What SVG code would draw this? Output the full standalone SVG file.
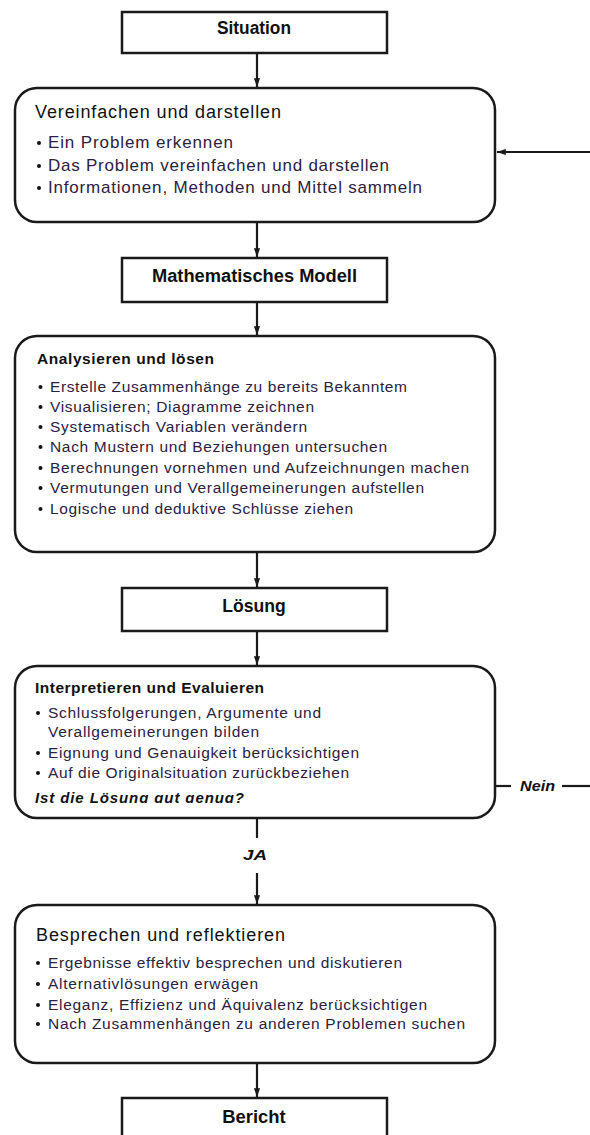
<svg xmlns="http://www.w3.org/2000/svg" width="590" height="1135" viewBox="0 0 590 1135">
<style>
.box{fill:#fff;stroke:#1a1a1a;stroke-width:2.5}
.lbl{font-family:"Liberation Sans",Arial,sans-serif;font-weight:bold;font-size:17.5px;fill:#111;text-anchor:middle}
.t1{font-family:"Liberation Sans",Arial,sans-serif;font-size:18px;fill:#111}
.t2{font-family:"Liberation Sans",Arial,sans-serif;font-weight:bold;font-size:15.5px;fill:#111}
.b{font-family:"Liberation Sans",Arial,sans-serif;font-size:17px;fill:#2c2140}
.bs{font-family:"Liberation Sans",Arial,sans-serif;font-size:15.5px;fill:#2c2140}
.bi{font-family:"Liberation Sans",Arial,sans-serif;font-weight:bold;font-style:italic;font-size:15px;fill:#111}
.dot{fill:#111}
.ln{fill:none;stroke:#1a1a1a;stroke-width:2.2}
</style>
<defs>
<marker id="ah" viewBox="0 0 10 7" refX="10" refY="3.5" markerWidth="4" markerHeight="2.8" orient="auto" markerUnits="strokeWidth">
<path d="M0,0 L10,3.5 L0,7 z" fill="#1a1a1a"/>
</marker>
<clipPath id="clipq"><rect x="20" y="782" width="300" height="21"/></clipPath>
</defs>

<g id="connectors">
<line class="ln" x1="257" y1="53" x2="257" y2="87" marker-end="url(#ah)"/>
<line class="ln" x1="257" y1="222" x2="257" y2="257" marker-end="url(#ah)"/>
<line class="ln" x1="257" y1="302" x2="257" y2="335" marker-end="url(#ah)"/>
<line class="ln" x1="257" y1="552" x2="257" y2="587" marker-end="url(#ah)"/>
<line class="ln" x1="257" y1="631" x2="257" y2="665" marker-end="url(#ah)"/>
<line class="ln" x1="257" y1="818" x2="257" y2="838"/>
<text class="bi" x="255" y="860" text-anchor="middle" textLength="24" lengthAdjust="spacingAndGlyphs">JA</text>
<line class="ln" x1="257" y1="873" x2="257" y2="904" marker-end="url(#ah)"/>
<line class="ln" x1="257" y1="1063" x2="257" y2="1097" marker-end="url(#ah)"/>
<line class="ln" x1="496" y1="786" x2="511" y2="786"/>
<text class="bi" x="520" y="791" textLength="35" lengthAdjust="spacingAndGlyphs">Nein</text>
<line class="ln" x1="562" y1="786" x2="590" y2="786"/>
<line class="ln" x1="590" y1="152" x2="497" y2="152" marker-end="url(#ah)"/>
</g>

<g id="situation">
<rect class="box" x="122" y="12" width="265" height="41"/>
<text class="lbl" x="254" y="34" textLength="74" lengthAdjust="spacingAndGlyphs">Situation</text>
</g>

<g id="vereinfachen">
<rect class="box" x="15" y="88" width="480" height="134" rx="22"/>
<text class="t1" x="35" y="118" textLength="246" lengthAdjust="spacing">Vereinfachen und darstellen</text>
<circle class="dot" cx="39" cy="143" r="2"/>
<text class="b" x="48" y="148" textLength="185" lengthAdjust="spacing">Ein Problem erkennen</text>
<circle class="dot" cx="39" cy="166" r="2"/>
<text class="b" x="48" y="171" textLength="341" lengthAdjust="spacing">Das Problem vereinfachen und darstellen</text>
<circle class="dot" cx="39" cy="188" r="2"/>
<text class="b" x="48" y="193" textLength="374" lengthAdjust="spacing">Informationen, Methoden und Mittel sammeln</text>
</g>

<g id="modell">
<rect class="box" x="122" y="258" width="265" height="44"/>
<text class="lbl" x="254.5" y="282" textLength="205" lengthAdjust="spacingAndGlyphs">Mathematisches Modell</text>
</g>

<g id="analysieren">
<rect class="box" x="15" y="336" width="480" height="216" rx="22"/>
<text class="t2" x="37" y="364" textLength="177" lengthAdjust="spacing">Analysieren und lösen</text>
<circle class="dot" cx="40.5" cy="387" r="2"/>
<text class="bs" x="50" y="392" textLength="357" lengthAdjust="spacing">Erstelle Zusammenhänge zu bereits Bekanntem</text>
<circle class="dot" cx="40.5" cy="407" r="2"/>
<text class="bs" x="50" y="412" textLength="264" lengthAdjust="spacing">Visualisieren; Diagramme zeichnen</text>
<circle class="dot" cx="40.5" cy="427" r="2"/>
<text class="bs" x="50" y="432" textLength="257" lengthAdjust="spacing">Systematisch Variablen verändern</text>
<circle class="dot" cx="40.5" cy="447" r="2"/>
<text class="bs" x="50" y="452" textLength="337" lengthAdjust="spacing">Nach Mustern und Beziehungen untersuchen</text>
<circle class="dot" cx="40.5" cy="468" r="2"/>
<text class="bs" x="50" y="473" textLength="419" lengthAdjust="spacing">Berechnungen vornehmen und Aufzeichnungen machen</text>
<circle class="dot" cx="40.5" cy="488" r="2"/>
<text class="bs" x="50" y="493" textLength="374" lengthAdjust="spacing">Vermutungen und Verallgemeinerungen aufstellen</text>
<circle class="dot" cx="40.5" cy="509" r="2"/>
<text class="bs" x="50" y="514" textLength="303" lengthAdjust="spacing">Logische und deduktive Schlüsse ziehen</text>
</g>

<g id="loesung">
<rect class="box" x="122" y="588" width="265" height="43"/>
<text class="lbl" x="254" y="612" textLength="63.5" lengthAdjust="spacingAndGlyphs">Lösung</text>
</g>

<g id="interpretieren">
<rect class="box" x="15" y="666" width="480" height="152" rx="22"/>
<text class="t2" x="35" y="693" textLength="229" lengthAdjust="spacing">Interpretieren und Evaluieren</text>
<circle class="dot" cx="38" cy="713" r="2"/>
<text class="bs" x="48" y="718" textLength="273" lengthAdjust="spacing">Schlussfolgerungen, Argumente und</text>
<text class="bs" x="48" y="737" textLength="211" lengthAdjust="spacing">Verallgemeinerungen bilden</text>
<circle class="dot" cx="38" cy="753" r="2"/>
<text class="bs" x="48" y="758" textLength="311" lengthAdjust="spacing">Eignung und Genauigkeit berücksichtigen</text>
<circle class="dot" cx="38" cy="773" r="2"/>
<text class="bs" x="48" y="778" textLength="301" lengthAdjust="spacing">Auf die Originalsituation zurückbeziehen</text>
<text class="bi" x="35" y="803" clip-path="url(#clipq)" textLength="209" lengthAdjust="spacing">Ist die Lösung gut genug?</text>
</g>

<g id="besprechen">
<rect class="box" x="15" y="905" width="480" height="158" rx="22"/>
<text class="t1" x="36" y="941" textLength="249" lengthAdjust="spacing">Besprechen und reflektieren</text>
<circle class="dot" cx="38" cy="963" r="2"/>
<text class="bs" x="48" y="968" textLength="354" lengthAdjust="spacing">Ergebnisse effektiv besprechen und diskutieren</text>
<circle class="dot" cx="38" cy="984" r="2"/>
<text class="bs" x="48" y="989" textLength="210" lengthAdjust="spacing">Alternativlösungen erwägen</text>
<circle class="dot" cx="38" cy="1005" r="2"/>
<text class="bs" x="48" y="1010" textLength="379" lengthAdjust="spacing">Eleganz, Effizienz und Äquivalenz  berücksichtigen</text>
<circle class="dot" cx="38" cy="1024" r="2"/>
<text class="bs" x="48" y="1029" textLength="417" lengthAdjust="spacing">Nach Zusammenhängen zu anderen Problemen suchen</text>
</g>

<g id="bericht">
<rect class="box" x="122" y="1098" width="265" height="45"/>
<text class="lbl" x="254" y="1123" textLength="63.5" lengthAdjust="spacingAndGlyphs">Bericht</text>
</g>
</svg>
